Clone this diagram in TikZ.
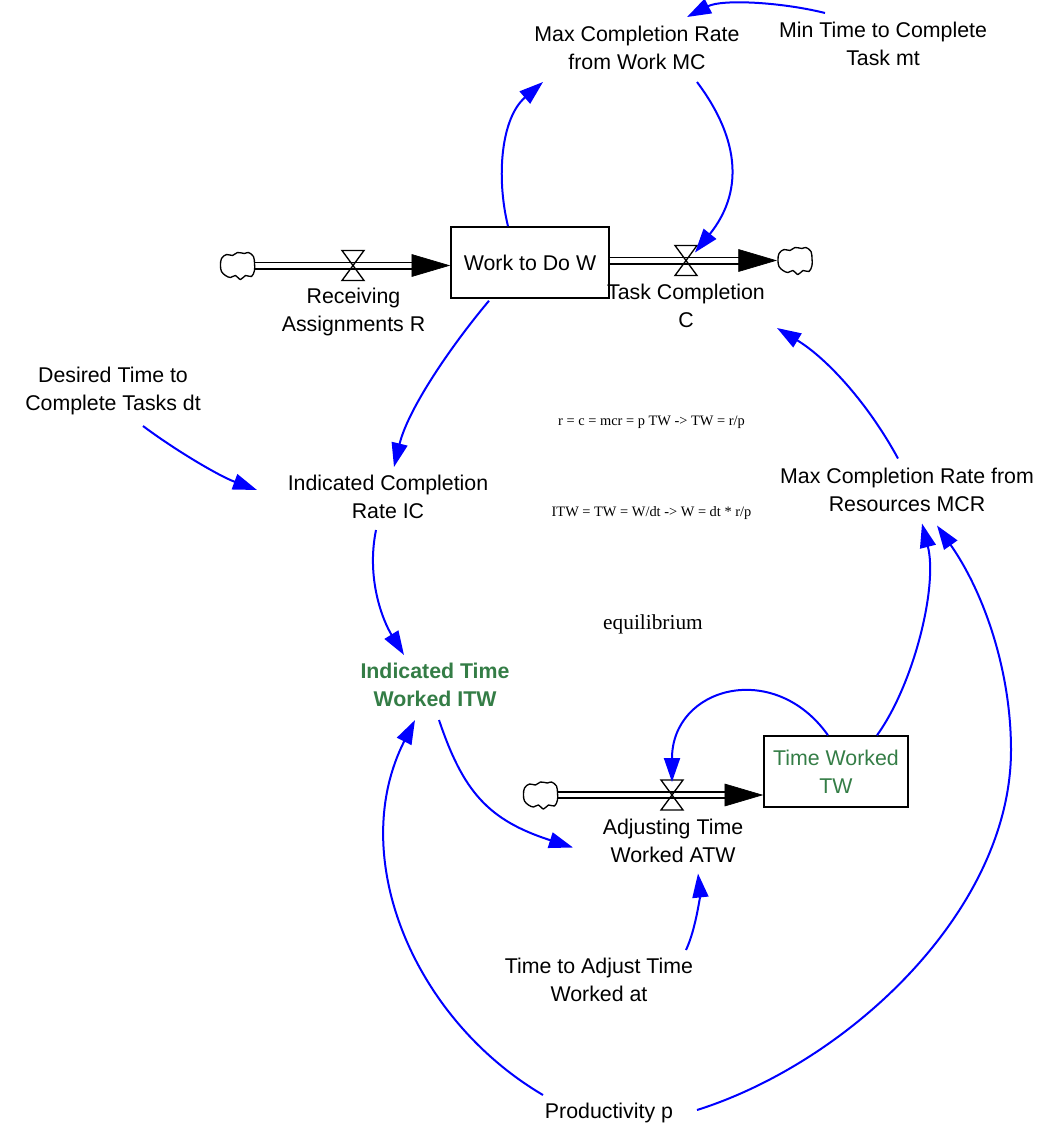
\documentclass[tikz,border=0pt]{standalone}
\usepackage{fontspec}
\setmainfont{Liberation Sans}
\newfontfamily\eqfont{Liberation Serif}
\usetikzlibrary{arrows.meta}
\definecolor{stockgreen}{RGB}{52,125,70}
\definecolor{linkblue}{RGB}{0,0,255}

% source/sink cloud, centred on a named coordinate
\newcommand{\sdcloud}[1]{%
  \draw[cloudline,shift={(#1)}] plot[smooth cycle,tension=0.6] coordinates {
    (-17,0) (-16,-7) (-11,-11) (-5,-10) (0,-13) (7,-12) (11,-13) (16,-9)
    (17,-2) (17,5) (14,11) (8,10) (3,14) (-2,10) (-7,12) (-12,10) (-16,6)};}
% flow valve (bow-tie), centred on a named coordinate
\newcommand{\sdvalve}[1]{%
  \draw[valveline,shift={(#1)}] (-11,-15) -- (11,-15) -- (-11,15) -- (11,15) -- cycle;}

\begin{document}
\begin{tikzpicture}[x=0.75pt,y=-0.75pt,
  lbl/.style={inner sep=0pt, align=center, font=\fontsize{16}{21}\selectfont},
  stock/.style={draw, line width=1.1pt, minimum height=53.25pt,
    inner sep=0pt, align=center, font=\fontsize{16}{21}\selectfont},
  pipe/.style={line width=1.3pt, double=white, double distance=3.4pt},
  flowhead/.style={line width=0.5pt, -{Triangle[length=29pt,width=17pt]}},
  link/.style={linkblue, line width=1.5pt, -{Triangle[length=18pt,width=12pt]}},
  cloudline/.style={line width=1pt, fill=white, line join=round},
  valveline/.style={line width=1pt, line join=miter},
  eq/.style={inner sep=0pt, font=\eqfont\fontsize{10.8}{13}\selectfont}
]
\useasboundingbox (0,0) rectangle (1050,1132);

% stocks
\node[stock, minimum width=118.5pt] (W) at (530,262.5) {Work to Do W};
\node[stock, minimum width=108pt, text=stockgreen] (TW) at (836,771.5) {Time Worked\\TW};

% auxiliary variables
\node[lbl] (MC)  at (637,48)   {Max Completion Rate\\from Work MC};
\node[lbl] (mt)  at (883,44)   {Min Time to Complete\\Task mt};
\node[lbl] (dt)  at (113,391)  {Desired Time to\\Complete Tasks dt};
\node[lbl] (IC)  at (388,497)  {Indicated Completion\\Rate IC};
\node[lbl] (MCR) at (907,489.5){Max Completion Rate from\\Resources MCR};
\node[lbl, text=stockgreen, font=\bfseries\fontsize{16}{21}\selectfont] (ITW) at (435,685) {Indicated Time\\Worked ITW};
\node[lbl] (at)  at (599,980)  {Time to Adjust Time\\Worked at};
\node[lbl] (p)   at (609,1113) {Productivity p};

% flow labels
\node[lbl] (R)   at (353.5,311.5) {Receiving\\Assignments R};
\node[lbl] (C)   at (686,306)     {Task Completion\\C};
\node[lbl] (ATW) at (673,840.5)   {Adjusting Time\\Worked ATW};

% notes
\node[eq] (eqA) at (651.5,422) {r = c = mcr = p TW -> TW = r/p};
\node[eq] (eqB) at (651.5,513) {ITW = TW = W/dt -> W = dt * r/p};
\node[inner sep=0pt, font=\eqfont\fontsize{16}{19}\selectfont] (eqC) at (653,624) {equilibrium};

% flow geometry
\coordinate (cR) at (237.5,265.5);
\coordinate (vR) at (353,265.5);
\coordinate (cC) at (795,260.5);
\coordinate (vC) at (686,260.5);
\coordinate (cA) at (540.5,795);
\coordinate (vA) at (672,795);

% Receiving Assignments
\draw[pipe] (cR) -- ([shift={(-37,3)}]W.west);
\draw[flowhead] ([shift={(-38,3)}]W.west) -- ([shift={(0,3)}]W.west);
\sdcloud{cR}
\sdvalve{vR}

% Task Completion
\draw[pipe] ([shift={(0,-2)}]W.east) -- ([shift={(-55,0)}]cC);
\draw[flowhead] ([shift={(-56,0)}]cC) -- ([shift={(-18,0)}]cC);
\sdcloud{cC}
\sdvalve{vC}

% Adjusting Time Worked
\draw[pipe] (cA) -- ([shift={(-37,23.5)}]TW.west);
\draw[flowhead] ([shift={(-38,23.5)}]TW.west) -- ([shift={(0,23.5)}]TW.west);
\sdcloud{cA}
\sdvalve{vA}

% information links
\draw[link] ([shift={(-22,0)}]W.north) .. controls (496,177) and (501,118) .. ([shift={(-94,34)}]MC.center);
\draw[link] ([shift={(60,34)}]MC.center) .. controls (742,142) and (742,194) .. ([shift={(9,-8)}]vC);
\draw[link] ([shift={(-58,-31)}]mt.center) .. controls (781,2) and (722,-1) .. ([shift={(50,-31)}]MC.center);
\draw[link] ([shift={(-41,2)}]W.south) .. controls (451,346) and (408,409) .. ([shift={(6,-30)}]IC.center);
\draw[link] ([shift={(30,35)}]dt.center) .. controls (175,450) and (219,476) .. ([shift={(-131,-7)}]IC.center);
\draw[link] ([shift={(-12,33)}]IC.center) .. controls (366,579) and (383,621) .. ([shift={(-31,-30)}]ITW.center);
\draw[link] ([shift={(4,35)}]ITW.center) .. controls (463,791) and (487.5,820) .. ([shift={(-100,7)}]ATW.center);
\draw[link] ([shift={(-8,0)}]TW.north) .. controls (774,659) and (672,687) .. ([shift={(0,-13)}]vA);
\draw[link] ([shift={(41,0)}]TW.north) .. controls (914,684) and (938,586) .. ([shift={(15,34)}]MCR.center);
\draw[link] ([shift={(-9,-31)}]MCR.center) .. controls (869,405) and (828,359) .. ([shift={(91,22)}]C.center);
\draw[link] ([shift={(87,-30)}]at.center) .. controls (696.5,927.5) and (700,893) .. ([shift={(25,33)}]ATW.center);
\draw[link] ([shift={(-66,-18)}]p.center) .. controls (413,1018.5) and (346,856) .. ([shift={(-20,35)}]ITW.center);
\draw[link] ([shift={(88,-3)}]p.center) .. controls (849,1062) and (1011,910) .. (1011,750)
  .. controls (1011,669) and (983,591) .. ([shift={(30,36)}]MCR.center);
\end{tikzpicture}
\end{document}
